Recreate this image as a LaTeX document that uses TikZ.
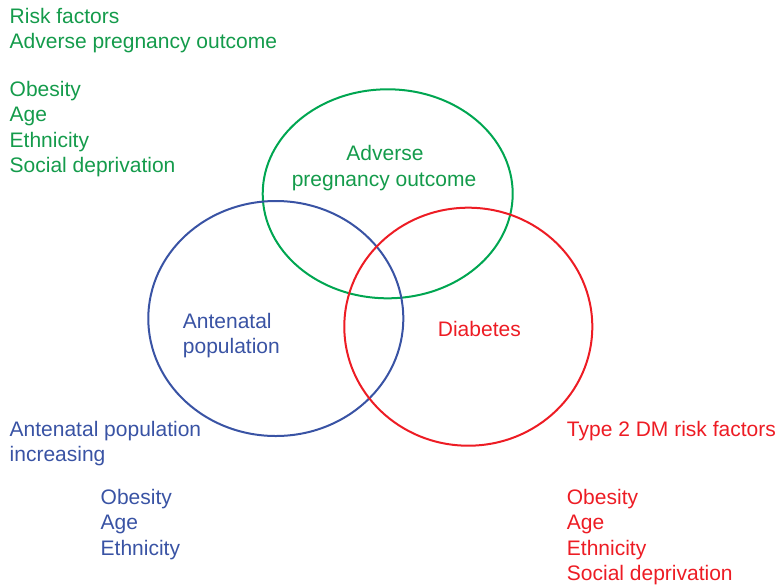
\documentclass[tikz,border=0pt]{standalone}
\usepackage{fontspec}
\setmainfont{Liberation Sans}
\definecolor{cgreen}{RGB}{0,166,81}
\definecolor{tgreen}{RGB}{20,155,75}
\definecolor{cblue}{RGB}{57,83,164}
\definecolor{cred}{RGB}{237,28,36}
\tikzset{
  ring/.style={line width=2pt},
  lbl/.style={anchor=base west, inner sep=0pt, font=\fontsize{21}{25}\selectfont},
  clbl/.style={anchor=base, inner sep=0pt, font=\fontsize{21}{25}\selectfont}
}
\begin{document}
\begin{tikzpicture}[x=1pt,y=-1pt]
\useasboundingbox (0,0) rectangle (778,587);
% circles
\draw[ring, cgreen] (387.7,193.8) ellipse [x radius=125, y radius=104.5];
\draw[ring, cblue] (275.8,318.5) ellipse [x radius=127.5, y radius=117.5];
\draw[ring, cred] (468.3,326.7) ellipse [x radius=124, y radius=119];
% circle labels
\node[clbl, text=tgreen] (apo1) at (385,160) {Adverse};
\node[clbl, text=tgreen] (apo2) at (384,186) {pregnancy outcome};
\node[lbl, text=cblue] (ap1) at (182.7,328) {Antenatal};
\node[lbl, text=cblue] (ap2) at (182.7,353.5) {population};
\node[lbl, text=cred] (dia) at (437.7,336) {Diabetes};
% green list
\node[lbl, text=tgreen] (g1) at (9.5,23.5) {Risk factors};
\node[lbl, text=tgreen] (g2) at (9.5,48.5) {Adverse pregnancy outcome};
\node[lbl, text=tgreen] (g3) at (9.5,96) {Obesity};
\node[lbl, text=tgreen] (g4) at (9.5,121.5) {Age};
\node[lbl, text=tgreen] (g5) at (9.5,147) {Ethnicity};
\node[lbl, text=tgreen] (g6) at (9.5,172.5) {Social deprivation};
% blue list
\node[lbl, text=cblue] (b1) at (9.5,436) {Antenatal population};
\node[lbl, text=cblue] (b2) at (9.5,461.5) {increasing};
\node[lbl, text=cblue] (b3) at (100.5,504) {Obesity};
\node[lbl, text=cblue] (b4) at (100.5,529.5) {Age};
\node[lbl, text=cblue] (b5) at (100.5,555) {Ethnicity};
% red list
\node[lbl, text=cred] (r1) at (566.7,436) {Type 2 DM risk factors};
\node[lbl, text=cred] (r3) at (566.7,504) {Obesity};
\node[lbl, text=cred] (r4) at (566.7,529.5) {Age};
\node[lbl, text=cred] (r5) at (566.7,555) {Ethnicity};
\node[lbl, text=cred] (r6) at (566.7,580.5) {Social deprivation};
\end{tikzpicture}
\end{document}
